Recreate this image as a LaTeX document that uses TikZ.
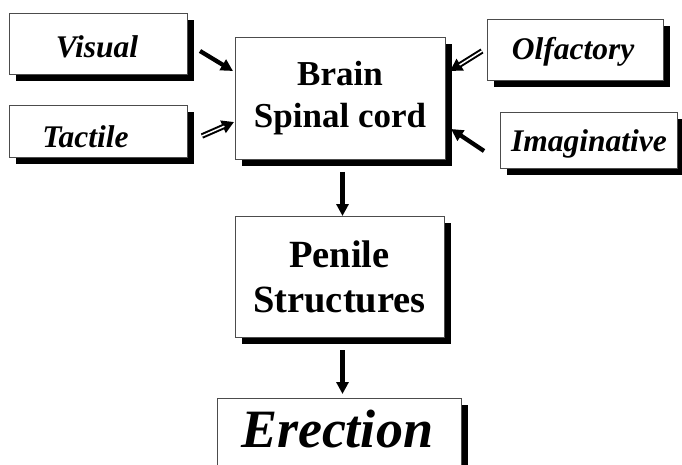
\documentclass[tikz,border=0pt]{standalone}
\usepackage{fontspec}
\setmainfont{Liberation Serif}
\usetikzlibrary{arrows.meta,shadows,calc}
\begin{document}
\begin{tikzpicture}[x=1pt,y=-1pt,
  box/.style={draw=black!70, line width=0.8pt, fill=white, inner sep=0pt,
    drop shadow={shadow xshift=7pt, shadow yshift=-7pt, fill=black, opacity=1}},
  smalltxt/.style={font=\fontsize{31.5}{31.5}\selectfont\bfseries\itshape, anchor=base},
  bigtxt/.style={font=\fontsize{35}{42}\selectfont\bfseries, align=center},
  arr/.style={line width=4.3pt, -{Triangle[length=12pt,width=12pt]}},
  darr/.style={line width=5.5pt, -{Triangle[length=12pt,width=13pt]}},
  dmid/.style={white, line width=1.5pt}
]
\useasboundingbox (0,0) rectangle (682,465);
\clip (0,0) rectangle (682,465);
% boxes
\node[box, minimum width=178pt, minimum height=61pt] (vis) at (98,43.5) {};
\node[smalltxt] at (97,57.5) {Visual};
\node[box, minimum width=178pt, minimum height=52pt] (tac) at (98,131) {};
\node[smalltxt] at (85.5,148) {Tactile};
\node[box, minimum width=210pt, minimum height=122pt] (brain) at (340,98) {};
\node[bigtxt] at (brain.center) {Brain\\Spinal cord};
\node[box, minimum width=176pt, minimum height=61pt] (olf) at (575,49.5) {};
\node[smalltxt] at (573,60) {Olfactory};
\node[box, minimum width=177pt, minimum height=56pt] (ima) at (588.5,140) {};
\node[smalltxt] at (589,152) {Imaginative};
\node[box, minimum width=209pt, minimum height=121pt] (pen) at (339.5,276.5) {};
\node[bigtxt, font=\fontsize{38.5}{45}\selectfont\bfseries] at (pen.center) {Penile\\Structures};
\node[box, minimum width=244pt, minimum height=120pt] (ere) at (339,458) {};
\node[font=\fontsize{54}{54}\selectfont\bfseries\itshape, anchor=base] at (337,447) {Erection};
% arrow coordinates
\coordinate (v1) at (200,51);
\coordinate (v2) at (233,71);
\coordinate (t1) at (202,136);
\coordinate (t2) at (234,122);
\coordinate (o1) at (482,51);
\coordinate (o2) at (450,71);
\coordinate (i1) at (484,151);
\coordinate (i2) at (451,129);
\coordinate (b1) at (342.5,172);
\coordinate (b2) at (342.5,216);
\coordinate (p1) at (342.5,350);
\coordinate (p2) at (342.5,394);
% arrows
\draw[arr] (v1) -- (v2);
\draw[arr] (i1) -- (i2);
\draw[darr] (t1) -- (t2);
\draw[dmid] (t1) -- ($(t1)!0.7!(t2)$);
\draw[darr] (o1) -- (o2);
\draw[dmid] (o1) -- ($(o1)!0.7!(o2)$);
\draw[arr] (b1) -- (b2);
\draw[arr] (p1) -- (p2);
\end{tikzpicture}
\end{document}
